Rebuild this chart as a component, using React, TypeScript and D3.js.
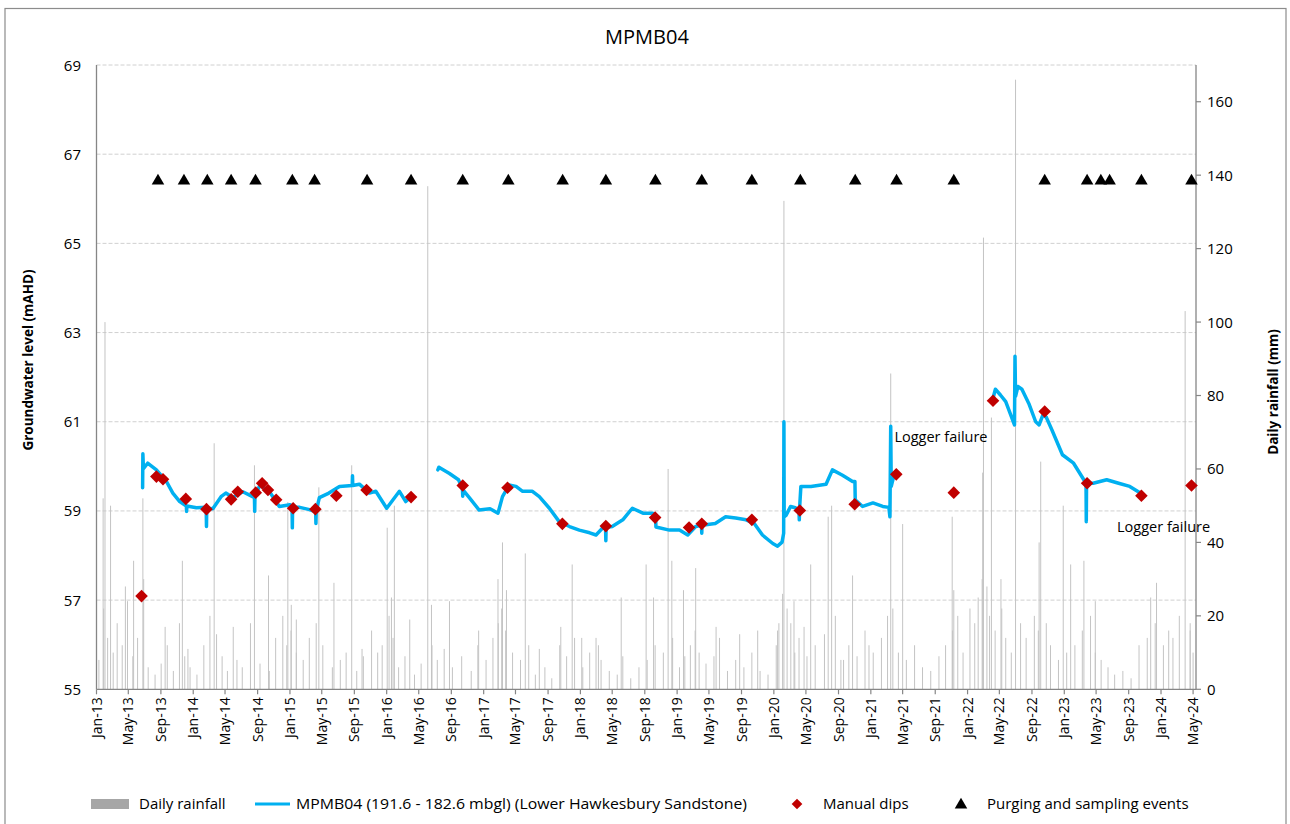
import React from "react";
import * as d3 from "d3";

const W = 1290;
const H = 824;
const FONT = "'Open Sans', 'Noto Sans', sans-serif";

const chartTitle = "MPMB04";
const leftAxisTitle = "Groundwater level (mAHD)";
const rightAxisTitle = "Daily rainfall (mm)";
const leftTicks = [55, 57, 59, 61, 63, 65, 67, 69];
const rightTicks = [0, 20, 40, 60, 80, 100, 120, 140, 160];
const legendLabels = [
  "Daily rainfall",
  "MPMB04 (191.6 - 182.6 mbgl) (Lower Hawkesbury Sandstone)",
  "Manual dips",
  "Purging and sampling events",
];

// Daily rainfall: notable events (date, mm)
const rainMajor: [string, number][] = [
  ["2013-01-26", 52], ["2013-02-02", 100], ["2013-02-23", 50], ["2013-04-20", 28], ["2013-05-21", 35],
  ["2013-06-25", 52], ["2013-09-17", 17], ["2013-11-21", 35], ["2013-12-12", 11], ["2014-03-21", 67],
  ["2014-06-01", 17], ["2014-08-20", 61], ["2014-10-12", 31], ["2014-12-24", 51], ["2015-01-06", 23],
  ["2015-01-25", 19], ["2015-04-20", 55], ["2015-06-16", 29], ["2015-08-22", 61], ["2015-09-30", 11],
  ["2016-01-03", 44], ["2016-01-19", 25], ["2016-01-30", 50], ["2016-03-28", 19], ["2016-06-04", 137],
  ["2016-06-18", 23], ["2016-08-25", 24], ["2016-12-13", 16], ["2017-02-24", 30], ["2017-03-13", 40],
  ["2017-03-28", 27], ["2017-06-07", 37], ["2017-07-30", 11], ["2017-10-19", 17], ["2017-12-01", 34],
  ["2018-01-06", 14], ["2018-03-10", 12], ["2018-06-04", 25], ["2018-09-06", 34], ["2018-10-04", 25],
  ["2018-11-28", 60], ["2018-12-12", 35], ["2019-01-25", 27], ["2019-03-12", 33], ["2019-05-28", 17],
  ["2019-08-25", 15], ["2019-11-01", 16], ["2020-01-15", 16], ["2020-02-03", 26], ["2020-02-08", 133],
  ["2020-03-17", 24], ["2020-04-24", 17], ["2020-05-19", 34], ["2020-07-24", 47], ["2020-08-06", 50],
  ["2020-09-20", 8], ["2020-10-24", 31], ["2021-03-17", 86], ["2021-05-01", 45], ["2021-11-04", 47],
  ["2021-11-10", 27], ["2022-02-27", 59], ["2022-03-02", 123], ["2022-04-01", 74], ["2022-05-07", 30],
  ["2022-07-01", 166], ["2022-09-28", 40], ["2022-10-04", 62], ["2022-12-28", 50], ["2023-01-25", 34],
  ["2023-03-16", 35], ["2023-04-28", 24], ["2023-11-23", 25], ["2023-12-15", 29], ["2024-04-01", 103],
  ["2024-04-20", 16],
];

// Daily rainfall: smaller falls (date, mm)
const rainMinor: [string, number][] = [
  ["2013-01-10", 8], ["2013-01-28", 22], ["2013-02-12", 14], ["2013-03-05", 10], ["2013-03-20", 18],
  ["2013-04-08", 12], ["2013-04-28", 24], ["2013-05-18", 9], ["2013-06-05", 14], ["2013-06-28", 30],
  ["2013-07-15", 6], ["2013-08-10", 4], ["2013-09-02", 7], ["2013-09-25", 12], ["2013-10-18", 5],
  ["2013-11-10", 18], ["2013-11-30", 9], ["2013-12-20", 6], ["2014-01-15", 4], ["2014-02-10", 12],
  ["2014-03-05", 20], ["2014-03-30", 15], ["2014-04-20", 9], ["2014-05-10", 5], ["2014-06-15", 8],
  ["2014-07-05", 6], ["2014-08-05", 18], ["2014-09-10", 7], ["2014-10-15", 5], ["2014-11-08", 14],
  ["2014-12-05", 20], ["2014-12-20", 12], ["2015-01-05", 16], ["2015-01-25", 10], ["2015-02-20", 8],
  ["2015-03-15", 14], ["2015-04-10", 18], ["2015-05-05", 12], ["2015-06-10", 6], ["2015-07-10", 8],
  ["2015-08-01", 10], ["2015-09-10", 5], ["2015-10-05", 9], ["2015-11-05", 16], ["2015-11-28", 10],
  ["2015-12-15", 12], ["2016-01-10", 20], ["2016-01-25", 14], ["2016-02-15", 6], ["2016-03-10", 9],
  ["2016-04-15", 4], ["2016-05-10", 7], ["2016-06-20", 12], ["2016-07-10", 8], ["2016-08-05", 11],
  ["2016-09-05", 6], ["2016-10-10", 9], ["2016-11-15", 5], ["2016-12-10", 12], ["2017-01-10", 8],
  ["2017-02-05", 14], ["2017-02-25", 18], ["2017-03-10", 22], ["2017-03-25", 16], ["2017-04-20", 10],
  ["2017-05-20", 8], ["2017-06-20", 12], ["2017-07-15", 4], ["2017-08-20", 6], ["2017-09-15", 3],
  ["2017-10-15", 12], ["2017-11-10", 9], ["2017-12-10", 14], ["2018-01-10", 6], ["2018-02-05", 10],
  ["2018-03-01", 14], ["2018-03-20", 8], ["2018-04-20", 5], ["2018-05-20", 4], ["2018-06-10", 9],
  ["2018-07-10", 3], ["2018-08-10", 6], ["2018-09-10", 8], ["2018-10-10", 12], ["2018-11-10", 10],
  ["2018-12-15", 14], ["2019-01-10", 6], ["2019-01-30", 9], ["2019-02-20", 12], ["2019-03-10", 16],
  ["2019-03-25", 10], ["2019-04-20", 7], ["2019-05-20", 9], ["2019-06-10", 14], ["2019-07-10", 5],
  ["2019-08-10", 8], ["2019-09-10", 6], ["2019-10-10", 10], ["2019-11-10", 5], ["2019-12-10", 4],
  ["2020-01-10", 12], ["2020-01-20", 18], ["2020-02-20", 22], ["2020-03-05", 18], ["2020-03-20", 10],
  ["2020-04-05", 14], ["2020-05-05", 9], ["2020-06-05", 12], ["2020-07-10", 15], ["2020-08-20", 20],
  ["2020-09-10", 8], ["2020-10-10", 12], ["2020-11-10", 9], ["2020-12-10", 16], ["2020-12-25", 12],
  ["2021-01-10", 10], ["2021-02-10", 14], ["2021-03-05", 20], ["2021-03-25", 22], ["2021-04-15", 10],
  ["2021-05-15", 8], ["2021-06-15", 12], ["2021-07-15", 6], ["2021-08-15", 5], ["2021-09-15", 9],
  ["2021-10-10", 12], ["2021-11-05", 16], ["2021-11-25", 20], ["2021-12-15", 10], ["2022-01-10", 22],
  ["2022-01-28", 18], ["2022-02-10", 25], ["2022-02-25", 30], ["2022-03-15", 28], ["2022-03-25", 20],
  ["2022-04-15", 16], ["2022-05-10", 22], ["2022-05-25", 14], ["2022-06-15", 10], ["2022-07-20", 18],
  ["2022-08-10", 14], ["2022-09-10", 20], ["2022-09-25", 16], ["2022-10-25", 18], ["2022-11-10", 12],
  ["2022-12-10", 8], ["2023-01-10", 10], ["2023-02-10", 12], ["2023-03-10", 16], ["2023-04-10", 20],
  ["2023-04-28", 10], ["2023-05-20", 8], ["2023-06-15", 6], ["2023-07-10", 4], ["2023-08-10", 5],
  ["2023-09-10", 3], ["2023-10-10", 12], ["2023-11-10", 14], ["2023-12-10", 18], ["2024-01-10", 12],
  ["2024-01-30", 16], ["2024-02-15", 14], ["2024-03-10", 20], ["2024-04-20", 18], ["2024-05-01", 10],
];

// Logger record, three segments separated by gaps (date, mAHD)
const loggerSeg1: [string, number][] = [
  ["2013-06-24", 59.52], ["2013-06-25", 60.28], ["2013-06-27", 59.95], ["2013-07-13", 60.07],
  ["2013-08-15", 59.92], ["2013-09-22", 59.66], ["2013-10-16", 59.40], ["2013-11-11", 59.21],
  ["2013-12-06", 59.11], ["2013-12-07", 58.99], ["2013-12-08", 59.11], ["2014-01-13", 59.07],
  ["2014-02-19", 59.08], ["2014-02-20", 58.65], ["2014-02-21", 59.06], ["2014-03-16", 59.05],
  ["2014-04-16", 59.32], ["2014-05-04", 59.40], ["2014-05-30", 59.30], ["2014-07-07", 59.43],
  ["2014-08-13", 59.32], ["2014-08-20", 59.30], ["2014-08-21", 58.99], ["2014-08-22", 59.34],
  ["2014-09-10", 59.58], ["2014-10-16", 59.43], ["2014-11-22", 59.10], ["2015-01-01", 59.14],
  ["2015-01-09", 59.10], ["2015-01-10", 58.62], ["2015-01-11", 59.08], ["2015-02-07", 59.08],
  ["2015-03-16", 59.03], ["2015-04-08", 58.98], ["2015-04-09", 58.72], ["2015-04-10", 59.00],
  ["2015-04-22", 59.30], ["2015-05-28", 59.40], ["2015-07-07", 59.55], ["2015-08-24", 59.57],
  ["2015-08-25", 59.79], ["2015-08-26", 59.57], ["2015-09-20", 59.60], ["2015-10-28", 59.40],
  ["2015-11-21", 59.44], ["2016-01-01", 59.06], ["2016-02-18", 59.44], ["2016-03-13", 59.21],
  ["2016-03-26", 59.28],
];
const loggerSeg2: [string, number][] = [
  ["2016-07-12", 59.92], ["2016-07-16", 59.98], ["2016-08-25", 59.84], ["2016-09-28", 59.70],
  ["2016-10-13", 59.50], ["2016-10-14", 59.33], ["2016-10-15", 59.47], ["2016-11-10", 59.28],
  ["2016-12-15", 59.02], ["2017-01-25", 59.05], ["2017-02-24", 58.95], ["2017-03-13", 59.32],
  ["2017-04-07", 59.58], ["2017-05-03", 59.55], ["2017-05-28", 59.44], ["2017-07-04", 59.44],
  ["2017-07-30", 59.32], ["2017-09-06", 59.06], ["2017-10-13", 58.76], ["2017-11-21", 58.65],
  ["2017-12-28", 58.57], ["2018-02-05", 58.51], ["2018-03-01", 58.46], ["2018-03-25", 58.61],
  ["2018-04-06", 58.62], ["2018-04-07", 58.33], ["2018-04-08", 58.63], ["2018-05-01", 58.65],
  ["2018-06-10", 58.80], ["2018-07-16", 59.06], ["2018-08-25", 58.95], ["2018-10-01", 58.95],
  ["2018-10-12", 58.82], ["2018-10-13", 58.64], ["2018-12-03", 58.57], ["2019-01-10", 58.57],
  ["2019-02-10", 58.46], ["2019-03-12", 58.65], ["2019-04-03", 58.68], ["2019-04-04", 58.50],
  ["2019-04-05", 58.69], ["2019-04-19", 58.69], ["2019-05-25", 58.72], ["2019-07-03", 58.87],
  ["2019-08-10", 58.84], ["2019-09-18", 58.80], ["2019-10-19", 58.72], ["2019-11-19", 58.46],
  ["2019-12-28", 58.27], ["2020-01-15", 58.21], ["2020-02-01", 58.30], ["2020-02-07", 58.50],
  ["2020-02-08", 61.00], ["2020-02-09", 58.87], ["2020-02-16", 58.90], ["2020-03-04", 59.10],
  ["2020-03-22", 59.07], ["2020-04-05", 59.02], ["2020-04-06", 58.80], ["2020-04-07", 59.05],
  ["2020-04-12", 59.55], ["2020-05-20", 59.55], ["2020-07-16", 59.60], ["2020-08-09", 59.92],
  ["2020-09-16", 59.80], ["2020-10-24", 59.66], ["2020-11-02", 59.66], ["2020-11-03", 59.25],
  ["2020-12-01", 59.10], ["2021-01-09", 59.18], ["2021-02-15", 59.10], ["2021-03-10", 59.08],
  ["2021-03-14", 58.87], ["2021-03-17", 60.90], ["2021-03-19", 59.55], ["2021-03-26", 59.72],
];
const loggerSeg3: [string, number][] = [
  ["2022-04-08", 61.55], ["2022-04-16", 61.73], ["2022-05-05", 61.60], ["2022-05-25", 61.45],
  ["2022-06-10", 61.20], ["2022-06-27", 60.93], ["2022-06-29", 62.47], ["2022-07-01", 61.57],
  ["2022-07-10", 61.79], ["2022-07-25", 61.73], ["2022-08-20", 61.41], ["2022-09-15", 61.00],
  ["2022-09-28", 60.93], ["2022-10-12", 61.15], ["2022-10-25", 61.10], ["2022-11-15", 60.82],
  ["2022-12-25", 60.26], ["2023-02-05", 60.07], ["2023-03-01", 59.84], ["2023-03-24", 59.62],
  ["2023-03-25", 58.76], ["2023-03-26", 59.62], ["2023-04-20", 59.62], ["2023-06-10", 59.70],
  ["2023-07-25", 59.62], ["2023-09-05", 59.55], ["2023-10-15", 59.40], ["2023-10-20", 59.36],
];
const loggerSegments = [loggerSeg1, loggerSeg2, loggerSeg3];

const manualDips: [string, number][] = [
  ["2013-06-20", 57.09], ["2013-08-15", 59.77], ["2013-09-09", 59.71], ["2013-12-04", 59.27],
  ["2014-02-20", 59.04], ["2014-05-24", 59.26], ["2014-06-18", 59.43], ["2014-08-25", 59.41],
  ["2014-09-18", 59.62], ["2014-10-10", 59.47], ["2014-11-10", 59.25], ["2015-01-13", 59.06],
  ["2015-04-07", 59.04], ["2015-06-25", 59.34], ["2015-10-17", 59.47], ["2016-04-02", 59.31],
  ["2016-10-14", 59.57], ["2017-04-01", 59.52], ["2017-10-25", 58.71], ["2018-04-07", 58.66],
  ["2018-10-10", 58.85], ["2019-02-15", 58.63], ["2019-04-04", 58.71], ["2019-10-10", 58.80],
  ["2020-04-08", 59.01], ["2020-11-01", 59.15], ["2021-04-07", 59.82], ["2021-11-10", 59.41],
  ["2022-04-07", 61.47], ["2022-10-19", 61.23], ["2023-03-28", 59.62], ["2023-10-19", 59.34],
  ["2024-04-25", 59.57],
];

const samplingDates: string[] = [
  "2013-08-21", "2013-11-27", "2014-02-23", "2014-05-24", "2014-08-24", "2015-01-10", "2015-04-04",
  "2015-10-19", "2016-04-02", "2016-10-14", "2017-04-04", "2017-10-26", "2018-04-07", "2018-10-11",
  "2019-04-04", "2019-10-10", "2020-04-10", "2020-11-03", "2021-04-08", "2021-11-10", "2022-10-19",
  "2023-03-28", "2023-05-19", "2023-06-21", "2023-10-19", "2024-04-25",
];
const samplingLevel = 66.4;

const annotations: { date: string; value: number; text: string }[] = [
  { date: "2021-03-31", value: 60.55, text: "Logger failure" },
  { date: "2023-07-19", value: 58.53, text: "Logger failure" },
];

const parse = d3.timeParse("%Y-%m-%d");
const DIAMOND = "M0,-6.3L6.3,0L0,6.3L-6.3,0Z";

export default function App() {
  const left = 96.5, right = 1196, top = 65, bottom = 689.3;
  const x = d3.scaleTime()
    .domain([parse("2013-01-01")!, parse("2024-05-12")!])
    .range([left, right]);
  const y = d3.scaleLinear().domain([55, 69]).range([bottom, top]);
  const yr = d3.scaleLinear().domain([0, 170]).range([bottom, top]);
  const xTicks = d3.timeMonth.every(4)!.range(parse("2013-01-01")!, parse("2024-05-02")!);
  const fmt = d3.timeFormat("%b-%y");

  const line = d3.line<[string, number]>()
    .x((d) => x(parse(d[0])!))
    .y((d) => y(d[1]))
    .curve(d3.curveLinear);

  const rain = [...rainMinor, ...rainMajor];
  const axisColor = "#868686";
  const tri = d3.symbol().type(d3.symbolTriangle).size(68)();

  return (
    <svg width={W} height={H} style={{ position: "absolute", left: 0, top: 0, background: "#fff" }}
      fontFamily={FONT}>
      <rect x={0} y={0} width={W} height={H} fill="#fff" />
      <rect x={5} y={8.5} width={1281} height={840} fill="none" stroke="#8c8c8c" strokeWidth={1.2} />
      <text x={647} y={44} textAnchor="middle" fontSize={20} fill="#000">{chartTitle}</text>

      {/* gridlines */}
      {leftTicks.filter((t) => t !== 55).map((t) => (
        <line key={"g" + t} x1={left} x2={right} y1={y(t)} y2={y(t)} stroke="#d0d0d0"
          strokeWidth={1} strokeDasharray="4,2" />
      ))}

      {/* rainfall */}
      {rain.map((d, i) => {
        const xx = x(parse(d[0])!);
        return (
          <rect key={"r" + i} x={xx - 0.5} width={1} y={yr(d[1])} height={yr(0) - yr(d[1])}
            fill="#c4c4c4" />
        );
      })}

      {/* axes */}
      <line x1={left} x2={left} y1={top} y2={bottom} stroke={axisColor} strokeWidth={1.3} />
      <line x1={right} x2={right} y1={top} y2={bottom} stroke={axisColor} strokeWidth={1.3} />
      <line x1={left} x2={right} y1={bottom} y2={bottom} stroke={axisColor} strokeWidth={1.3} />
      {leftTicks.map((t) => (
        <text key={"lt" + t} x={81} y={y(t) + 5.5} textAnchor="end" fontSize={15} fill="#000">{t}</text>
      ))}
      {rightTicks.map((t) => (
        <g key={"rt" + t}>
          <line x1={right} x2={right + 5} y1={yr(t)} y2={yr(t)} stroke={axisColor} strokeWidth={1.2} />
          <text x={1207} y={yr(t) + 5.5} fontSize={15} fill="#000">{t}</text>
        </g>
      ))}
      {xTicks.map((t, i) => (
        <g key={"xt" + i}>
          <line x1={x(t)} x2={x(t)} y1={bottom} y2={bottom + 5} stroke={axisColor} strokeWidth={1.2} />
          <text transform={`translate(${x(t) + 5},${bottom + 8}) rotate(-90)`} textAnchor="end"
            fontSize={14} fill="#000">{fmt(t)}</text>
        </g>
      ))}
      <text transform={`translate(33,360) rotate(-90)`} textAnchor="middle" fontSize={13.5}
        fontWeight="bold" fill="#000">{leftAxisTitle}</text>
      <text transform={`translate(1278,392) rotate(-90)`} textAnchor="middle" fontSize={13.5}
        fontWeight="bold" fill="#000">{rightAxisTitle}</text>

      {/* logger line */}
      {loggerSegments.map((seg, i) => (
        <path key={"l" + i} d={line(seg) || ""} fill="none" stroke="#00B0F0" strokeWidth={3.5}
          strokeLinejoin="round" strokeLinecap="round" />
      ))}

      {/* manual dips */}
      {manualDips.map((d, i) => (
        <path key={"m" + i} d={DIAMOND} transform={`translate(${x(parse(d[0])!)},${y(d[1])})`} fill="#C00000" />
      ))}

      {/* sampling events */}
      {samplingDates.map((d, i) => (
        <path key={"s" + i} d={tri!} transform={`translate(${x(parse(d)!)},${y(samplingLevel)})`} fill="#000" />
      ))}

      {annotations.map((a, i) => (
        <text key={"a" + i} x={x(parse(a.date)!)} y={y(a.value)} fontSize={14.5} fill="#000">{a.text}</text>
      ))}

      {/* legend */}
      <rect x={91} y={799} width={38} height={10} fill="#a6a6a6" />
      <text x={139} y={809} fontSize={15} fill="#000">{legendLabels[0]}</text>
      <line x1={255} x2={290} y1={804} y2={804} stroke="#00B0F0" strokeWidth={3} />
      <text x={296} y={809} fontSize={15} fill="#000" textLength={451} lengthAdjust="spacingAndGlyphs">{legendLabels[1]}</text>
      <path d={DIAMOND} transform="translate(797,804) scale(0.85)" fill="#C00000" />
      <text x={823} y={809} fontSize={15} fill="#000">{legendLabels[2]}</text>
      <path d={tri!} transform="translate(961,805)" fill="#000" />
      <text x={987} y={809} fontSize={15} fill="#000">{legendLabels[3]}</text>
    </svg>
  );
}
